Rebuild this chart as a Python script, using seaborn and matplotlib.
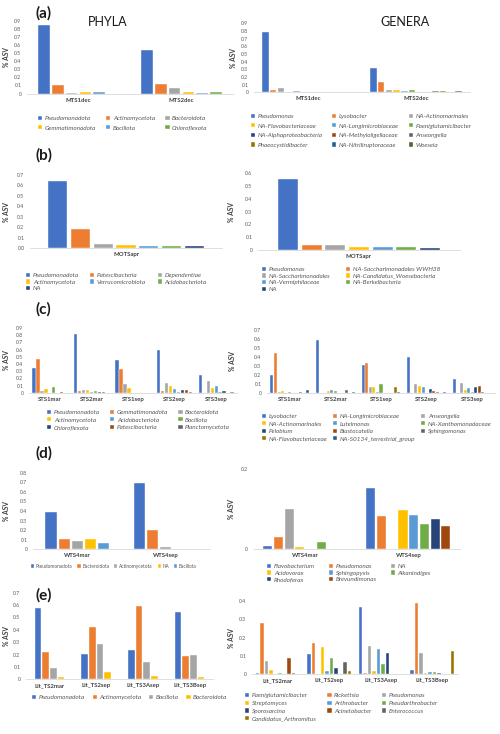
import numpy as np
import pandas as pd
import seaborn as sns
import matplotlib.pyplot as plt
from matplotlib.ticker import FuncFormatter

sns.set_style("white")
plt.rcParams['font.family'] = ['Lato', 'DejaVu Sans']

W, H = 500, 734
office = ["#4472C4", "#ED7D31", "#A5A5A5", "#FFC000", "#5B9BD5", "#70AD47",
          "#264478", "#9E480E", "#636363", "#997300", "#255E91", "#43682B"]

#%% data
# (a)
a_samples = ["MTS1dec", "MTS2dec"]
a_phyla = ["Pseudomonadota", "Actinomycetota", "Bacteroidota",
           "Gemmatimonadota", "Bacillota", "Chloroflexota"]
a_phyla_values = [[0.855, 0.103, 0.008, 0.020, 0.020, 0.0],
                  [0.538, 0.119, 0.070, 0.020, 0.008, 0.020]]
a_genera = ["Pseudomonas", "Lysobacter", "NA-Actinomarinales",
            "NA-Flavobacteriaceae", "NA-Longimicrobiaceae", "Paeniglutamicibacter",
            "NA-Alphaproteobacteria", "NA-Methyloligellaceae", "Anseongella",
            "Phaeocystidibacter", "NA-Nitriliruptoraceae", "Woeseia"]
a_genera_values = [[0.783, 0.030, 0.052, 0.0, 0.017, 0.0, 0.007, 0.0, 0.0, 0.0, 0.0, 0.0],
                   [0.320, 0.139, 0.026, 0.030, 0.017, 0.026, 0.009, 0.009, 0.013, 0.013, 0.009, 0.013]]

# (b)
b_samples = ["MOTSapr"]
b_phyla = ["Pseudomonadota", "Patescibacteria", "Dependentiae", "Actinomycetota",
           "Verrucomicrobiota", "Acidobacteriota", "NA"]
b_phyla_values = [[0.646, 0.185, 0.038, 0.029, 0.022, 0.022, 0.019]]
b_genera = ["Pseudomonas", "NA-Saccharimonadales WWH38", "NA-Saccharimonadales",
            "NA-Candidatus_Woesebacteria", "NA-Vermiphilaceae", "NA-Berkelbacteria", "NA"]
b_genera_values = [[0.556, 0.036, 0.039, 0.023, 0.026, 0.023, 0.013]]

# (c)
c_samples = ["STS1mar", "STS2mar", "STS1sep", "STS2sep", "STS3sep"]
c_phyla = ["Pseudomonadota", "Gemmatimonadota", "Bacteroidota", "Actinomycetota",
           "Acidobacteriota", "Bacillota", "Chloroflexota", "Patescibacteria",
           "Planctomycetota"]
c_phyla_values = [[0.340, 0.466, 0.028, 0.051, 0.0, 0.075, 0.0, 0.010, 0.0],
                  [0.820, 0.023, 0.042, 0.042, 0.010, 0.028, 0.010, 0.010, 0.0],
                  [0.448, 0.330, 0.120, 0.070, 0.0, 0.0, 0.0, 0.0, 0.0],
                  [0.588, 0.018, 0.140, 0.093, 0.056, 0.010, 0.033, 0.037, 0.014],
                  [0.252, 0.0, 0.168, 0.070, 0.089, 0.010, 0.023, 0.0, 0.010]]
c_genera = ["Lysobacter", "NA-Longimicrobiaceae", "Anseongella", "NA-Actinomarinales",
            "Luteimonas", "NA-Xanthomonadaceae", "Pelobium", "Blastocatella",
            "Sphingomonas", "NA-Flavobacteriaceae", "NA-S0134_terrestrial_group"]
c_genera_values = [[0.197, 0.440, 0.007, 0.022, 0.0, 0.007, 0.0, 0.0, 0.011, 0.0, 0.030],
                   [0.588, 0.0, 0.0, 0.022, 0.030, 0.022, 0.0, 0.0, 0.030, 0.0, 0.007],
                   [0.309, 0.328, 0.060, 0.060, 0.007, 0.093, 0.0, 0.0, 0.0, 0.060, 0.007],
                   [0.402, 0.0, 0.097, 0.074, 0.060, 0.0, 0.037, 0.019, 0.007, 0.0, 0.007],
                   [0.149, 0.0, 0.112, 0.030, 0.048, 0.007, 0.060, 0.074, 0.007, 0.0, 0.0]]

# (d)
d_samples = ["WTS4mar", "WTS4sep"]
d_phyla = ["Pseudomonadota", "Bacteroidota", "Actinomycetota", "NA", "Bacillota"]
d_phyla_values = [[0.393, 0.104, 0.090, 0.104, 0.066],
                  [0.689, 0.198, 0.028, 0.0, 0.007]]
d_genera = ["Flavobacterium", "Pseudomonas", "NA", "Acidovorax", "Sphingopyxis",
            "Alkanindiges", "Rhodoferax", "Brevundimonas"]
d_genera_values = [[0.007, 0.031, 0.101, 0.005, 0.0, 0.018, 0.0, 0.0],
                   [0.153, 0.083, 0.001, 0.097, 0.084, 0.063, 0.076, 0.058]]

# (e)
e_samples = ["Lit_TS2mar", "Lit_TS2sep", "Lit_TS3Asep", "Lit_TS3Bsep"]
e_phyla = ["Pseudomonadota", "Actinomycetota", "Bacillota", "Bacteroidota"]
e_phyla_values = [[0.573, 0.223, 0.089, 0.016],
                  [0.202, 0.420, 0.285, 0.062],
                  [0.237, 0.592, 0.143, 0.027],
                  [0.547, 0.191, 0.194, 0.016]]
e_genera = ["Paeniglutamicibacter", "Rickettsia", "Pseudomonas", "Streptomyces",
            "Arthrobacter", "Pseudarthrobacter", "Sporosarcina", "Acinetobacter",
            "Enterococcus", "Candidatus_Arthromitus"]
e_genera_values = [[0.005, 0.278, 0.071, 0.022, 0.0, 0.007, 0.0, 0.086, 0.003, 0.0],
                   [0.111, 0.170, 0.002, 0.148, 0.018, 0.089, 0.031, 0.0, 0.066, 0.017],
                   [0.369, 0.007, 0.155, 0.015, 0.137, 0.057, 0.113, 0.0, 0.0, 0.0],
                   [0.022, 0.387, 0.115, 0.007, 0.010, 0.013, 0.003, 0.0, 0.0, 0.124]]

#%% drawing
fig = plt.figure(figsize=(W / 100, H / 100), dpi=100)


def panel(rect, samples, taxa, values, ymax, ystep, width, ylab_x, leg_xy, ncol,
          rowgap, colgap, italic=True, zero_fmt="0", legsize=4.6):
    l, r, t, b = rect
    ax = fig.add_axes([l / W, 1 - b / H, (r - l) / W, (b - t) / H])
    df = pd.DataFrame([(s, tx, v) for s, row in zip(samples, values)
                       for tx, v in zip(taxa, row)],
                      columns=["sample", "taxon", "value"])
    sns.barplot(data=df, x="sample", y="value", hue="taxon", order=samples,
                hue_order=taxa, palette=office[:len(taxa)], saturation=1,
                width=width, gap=0.15, edgecolor="white", linewidth=0.3, ax=ax)
    ax.set_ylim(0, ymax)
    ax.set_yticks(np.arange(0, ymax + 1e-9, ystep))
    ax.yaxis.set_major_formatter(FuncFormatter(
        lambda v, p: zero_fmt if abs(v) < 1e-9 else f"{v:.1f}"))
    sns.despine(ax=ax, left=True)
    ax.spines["bottom"].set_color("#D9D9D9")
    ax.spines["bottom"].set_linewidth(0.6)
    ax.tick_params(axis="y", labelsize=3.7, labelcolor="#595959", length=0, pad=4)
    ax.tick_params(axis="x", labelsize=4.3, labelcolor="#404040", length=0, pad=3)
    for lab in ax.get_xticklabels():
        lab.set_fontweight("bold")
    ax.set_xlabel("")
    ax.set_ylabel("% ASV", fontsize=4.8, fontweight="bold", color="#404040")
    ax.yaxis.set_label_coords((ylab_x - l) / (r - l), 0.5)

    handles, labels = ax.get_legend_handles_labels()
    order = [i for c in range(ncol) for i in range(c, len(labels), ncol)]
    ax.legend([handles[i] for i in order], [labels[i] for i in order],
              loc="upper left", bbox_to_anchor=(leg_xy[0] / W, 1 - (leg_xy[1] - 3.3) / H),
              bbox_transform=fig.transFigure, ncol=ncol, frameon=False,
              prop={"size": legsize, "style": "italic" if italic else "normal"},
              labelcolor="#595959", handlelength=0.65, handleheight=0.65,
              handletextpad=0.4, columnspacing=colgap, labelspacing=rowgap,
              borderaxespad=0, borderpad=0)
    return ax


panel((27, 233, 21, 93.5), a_samples, a_phyla, a_phyla_values, 0.9, 0.1, 0.8,
      10, (38, 119), 3, 0.65, 1.6)
panel((254, 470, 23.3, 92.3), a_samples, a_genera, a_genera_values, 0.9, 0.1, 0.86,
      237, (251, 117), 3, 0.65, 1.5)

panel((30, 222, 175, 248), b_samples, b_phyla, b_phyla_values, 0.7, 0.1, 0.83,
      10, (26, 276), 3, 0.2, 1.8, zero_fmt="0.0")
panel((258, 460, 173, 250), b_samples, b_genera, b_genera_values, 0.6, 0.1, 0.82,
      235, (262, 270), 2, 0.2, 2.5)

panel((29, 237, 328, 392.7), c_samples, c_phyla, c_phyla_values, 0.9, 0.1, 0.86,
      10, (47, 413), 3, 0.33, 1.6)
panel((267, 495, 330, 392.7), c_samples, c_genera, c_genera_values, 0.7, 0.1, 0.86,
      236, (262, 417), 3, 0.33, 0.9)

panel((33, 210, 472.7, 549.3), d_samples, d_phyla, d_phyla_values, 0.8, 0.1, 0.74,
      10, (31, 567), 5, 0.3, 1.0, italic=False, legsize=3.4)
panel((253.5, 460, 469, 549), d_samples, d_genera, d_genera_values, 0.2, 0.2, 0.83,
      235, (267, 567), 3, 0.2, 2.2)

panel((26, 213, 592.7, 679.3), e_samples, e_phyla, e_phyla_values, 0.7, 0.1, 0.66,
      10, (32, 698), 4, 0.3, 1.2)
panel((252, 458, 601, 674), e_samples, e_genera, e_genera_values, 0.4, 0.1, 0.87,
      235, (245, 696), 3, 0.38, 1.7)

# panel letters and headers
for lab, y in [("(a)", 13), ("(b)", 155), ("(c)", 309), ("(d)", 453), ("(e)", 595)]:
    fig.text(35 / W, 1 - y / H, lab, fontsize=11, fontweight="bold", va="center",
             color="#1a1a1a")
fig.text(108 / W, 1 - 22 / H, "PHYLA", fontsize=9, ha="center", va="center", color="#1a1a1a")
fig.text(405 / W, 1 - 22 / H, "GENERA", fontsize=9, ha="center", va="center", color="#1a1a1a")

fig.savefig("out.png", dpi=100)
